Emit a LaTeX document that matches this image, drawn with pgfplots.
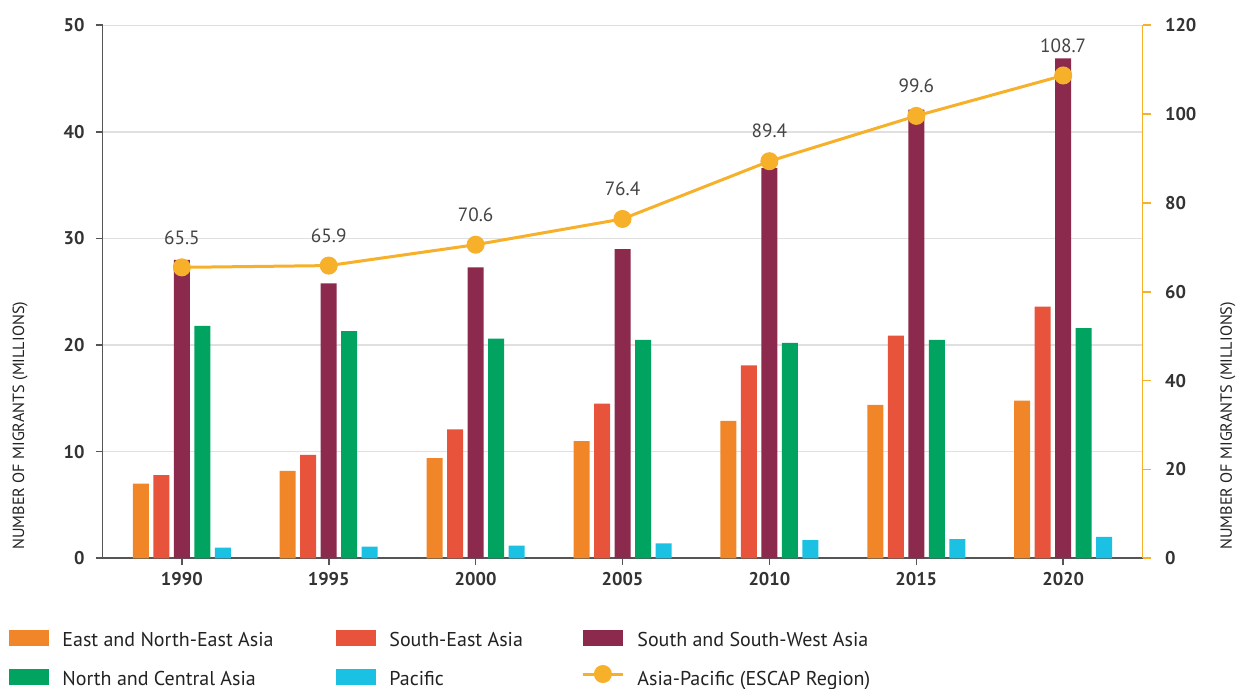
\documentclass[border=0pt]{standalone}
\usepackage{pgfplots}
\pgfplotsset{compat=1.18}
\usepackage{fontspec}
\setmainfont{PT Sans}
\definecolor{cEast}{HTML}{F08628}
\definecolor{cSE}{HTML}{E8533C}
\definecolor{cSouth}{HTML}{8B2A4C}
\definecolor{cNorth}{HTML}{00A360}
\definecolor{cPac}{HTML}{1AC1E3}
\definecolor{cLine}{HTML}{F6B02A}
\definecolor{axisgray}{HTML}{555555}
\definecolor{gridgray}{HTML}{E0E0E0}
\definecolor{tickgray}{HTML}{333333}
\definecolor{textgray}{HTML}{222222}
\definecolor{labgray}{HTML}{444444}
\pgfplotsset{
  barleg/.style={legend image code/.code={\fill[##1] (0pt,-2.4pt) rectangle (20pt,5.6pt);}},
  lineleg/.style={legend image code/.code={\draw[mark repeat=2,mark phase=2,##1] plot coordinates {(0pt,3.0pt) (10pt,3.0pt) (20pt,3.0pt)};}},
}
\begin{document}
\begin{tikzpicture}
\begin{axis}[
  at={(51.25pt,65.35pt)}, anchor=south west,
  scale only axis, width=520pt, height=266.5pt,
  xmin=1987.3, xmax=2022.7, ymin=0, ymax=50,
  axis x line*=bottom, axis y line*=left,
  axis line style={draw=axisgray, line width=0.8pt},
  xtick={1990,1995,2000,2005,2010,2015,2020},
  ytick={0,10,20,30,40,50},
  tick align=outside, major tick length=3.5pt,
  tick style={draw=axisgray, line width=0.8pt},
  ymajorgrids, grid style={draw=gridgray, line width=0.7pt},
  /pgf/number format/assume math mode=true,
  /pgf/number format/1000 sep={},
  tick label style={font=\fontsize{9.2}{11}\selectfont\bfseries, text=tickgray},
  yticklabel style={xshift=-2pt},
  every axis y label/.style={at={(axis description cs:-0.0793,0.003)}, rotate=90, anchor=west, font=\fontsize{8.1}{9}\selectfont, text=textgray},
  ylabel={NUMBER OF MIGRANTS (MILLIONS)},
  legend columns=3,
  legend cell align=left,
  legend style={at={(axis description cs:-0.0899,-0.1344)}, anchor=north west, draw=none, fill=none,
    inner sep=0pt, row sep=8pt, nodes={inner sep=0pt, text height=7pt, text depth=2pt},
    font=\fontsize{10}{11}\selectfont, text=textgray,
    /tikz/every odd column/.append style={column sep=6.5pt}},
  bar width=8pt,
]
\addplot[ybar, bar shift=-20.5pt, fill=cEast, draw=none, barleg] coordinates {(1990,7.0) (1995,8.2) (2000,9.4) (2005,11.0) (2010,12.9) (2015,14.4) (2020,14.8)};
\addlegendentry{\makebox[137pt][l]{East and North-East Asia}}
\addplot[ybar, bar shift=-10.25pt, fill=cSE, draw=none, barleg] coordinates {(1990,7.8) (1995,9.7) (2000,12.1) (2005,14.5) (2010,18.1) (2015,20.9) (2020,23.6)};
\addlegendentry{\makebox[96pt][l]{South-East Asia}}
\addplot[ybar, bar shift=0pt, fill=cSouth, draw=none, barleg] coordinates {(1990,28.0) (1995,25.8) (2000,27.3) (2005,29.0) (2010,36.6) (2015,42.1) (2020,46.9)};
\addlegendentry{South and South-West Asia}
\addplot[ybar, bar shift=10.25pt, fill=cNorth, draw=none, barleg] coordinates {(1990,21.8) (1995,21.3) (2000,20.6) (2005,20.5) (2010,20.2) (2015,20.5) (2020,21.6)};
\addlegendentry{\makebox[137pt][l]{North and Central Asia}}
\addplot[ybar, bar shift=20.5pt, fill=cPac, draw=none, barleg] coordinates {(1990,1.0) (1995,1.1) (2000,1.2) (2005,1.4) (2010,1.7) (2015,1.8) (2020,2.0)};
\addlegendentry{\makebox[96pt][l]{Pacific}}
\addlegendimage{color=cLine, line width=1.5pt, mark=*, mark size=3.75pt, mark options={fill=cLine, draw=none}, lineleg}
\addlegendentry{Asia-Pacific (ESCAP Region)}
\end{axis}
\begin{axis}[
  at={(51.25pt,65.35pt)}, anchor=south west,
  scale only axis, width=520pt, height=266.5pt,
  xmin=1987.3, xmax=2022.7, ymin=0, ymax=120,
  axis x line=none, axis y line*=right,
  axis line style={draw=cLine, line width=0.8pt},
  ytick={0,20,40,60,80,100,120},
  tick align=outside, major tick length=4pt,
  tick style={draw=cLine, line width=0.8pt},
  /pgf/number format/assume math mode=true,
  tick label style={font=\fontsize{9.2}{11}\selectfont\bfseries, text=tickgray},
  yticklabel style={xshift=3.75pt},
  every axis y label/.style={at={(axis description cs:1.0822,0.003)}, rotate=90, anchor=west, font=\fontsize{8.1}{9}\selectfont, text=textgray},
  ylabel={NUMBER OF MIGRANTS (MILLIONS)},
  clip=false,
]
\addplot[color=cLine, line width=1.5pt, mark=*, mark size=3.75pt, mark options={fill=cLine, draw=none},
  nodes near coords, point meta=explicit symbolic,
  every node near coord/.append style={anchor=center, yshift=15pt, font=\fontsize{9.6}{11}\selectfont, text=labgray}]
  coordinates {(1990,65.5)[65.5] (1995,65.9)[65.9] (2000,70.6)[70.6] (2005,76.4)[76.4] (2010,89.4)[89.4] (2015,99.6)[99.6] (2020,108.7)[108.7]};
\end{axis}
\pgfresetboundingbox
\path (0,0) rectangle (618pt,344.5pt);
\end{tikzpicture}
\end{document}
